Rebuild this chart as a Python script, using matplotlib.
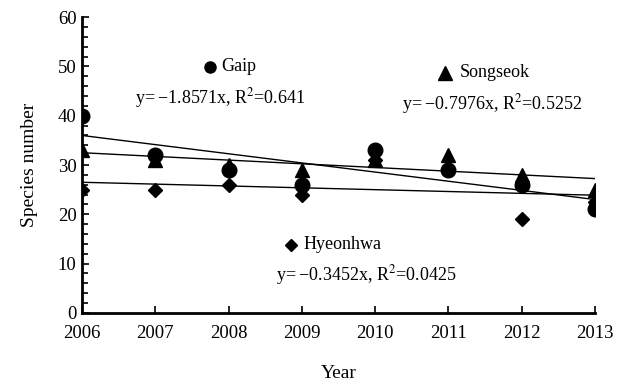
import numpy as np
import matplotlib
matplotlib.use('Agg')
import matplotlib.pyplot as plt
from matplotlib.ticker import MultipleLocator

years = [2006, 2007, 2008, 2009, 2010, 2011, 2012, 2013]
gaip = [40, 32, 29, 26, 33, 29, 26, 21]
songseok = [33, 31, 30, 29, 31, 32, 28, 25]
hyeonhwa = [25, 25, 26, 24, 31, 29, 19, 22.5]

labels = ['Gaip', 'Songseok', 'Hyeonhwa']
equations = ['y=\u2009\u22121.8571x, R$^2$=0.641',
             'y=\u2009\u22120.7976x, R$^2$=0.5252',
             'y=\u2009\u22120.3452x, R$^2$=0.0425']

plt.rcParams['font.family'] = ['Liberation Serif', 'DejaVu Serif']
plt.rcParams['mathtext.fontset'] = 'stix'
plt.rcParams['font.size'] = 13

fig = plt.figure(figsize=(6.21, 3.82), dpi=100)
ax = fig.add_axes([0.132, 0.181, 0.826, 0.774])

x = np.array(years)
idx = np.arange(1, len(years) + 1)

# trend lines (linear fits, like excel)
for series in (gaip, songseok, hyeonhwa):
    k, b = np.polyfit(idx, series, 1)
    ax.plot(x, k * idx + b, color='black', lw=1, zorder=2)

ax.plot(x, hyeonhwa, 'D', color='black', ms=7, zorder=3)
ax.plot(x, songseok, '^', color='black', ms=10.5, zorder=4)
ax.plot(x, gaip, 'o', color='black', ms=10.5, zorder=5)

# legend-like labels
ax.plot([2007.75], [49.9], 'o', color='black', ms=8, clip_on=False)
ax.text(2007.9, 49.9, labels[0], va='center', ha='left')
ax.text(2007.88, 43.6, equations[0], va='center', ha='center')

ax.plot([2010.95], [48.7], '^', color='black', ms=10, clip_on=False)
ax.text(2011.16, 48.7, labels[1], va='center', ha='left')
ax.text(2011.6, 42.4, equations[1], va='center', ha='center')

ax.plot([2008.85], [13.8], 'D', color='black', ms=6, clip_on=False)
ax.text(2009.02, 13.8, labels[2], va='center', ha='left')
ax.text(2009.88, 7.7, equations[2], va='center', ha='center')

ax.set_xlim(2006, 2013)
ax.set_ylim(0, 60)
ax.set_xticks(years)
ax.yaxis.set_major_locator(MultipleLocator(10))
ax.yaxis.set_minor_locator(MultipleLocator(2))
ax.tick_params(direction='in', width=1.2, length=5, labelsize=13.5)
ax.tick_params(axis='y', which='minor', direction='in', width=1.2, length=4)
ax.tick_params(axis='x', pad=9)
ax.tick_params(axis='y', pad=4)

for s in ['top', 'right']:
    ax.spines[s].set_visible(False)
for s in ['left', 'bottom']:
    ax.spines[s].set_linewidth(2)

ax.set_xlabel('Year', fontsize=14, labelpad=16)
ax.set_ylabel('Species number', fontsize=14, labelpad=14)

fig.savefig('out.png', dpi=100)
